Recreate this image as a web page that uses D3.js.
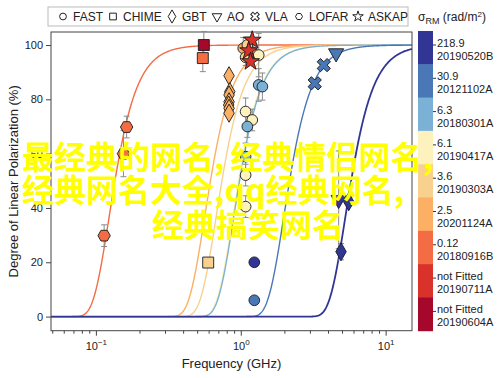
<!DOCTYPE html>
<html>
<head>
<meta charset="utf-8">
<script src="https://cdn.jsdelivr.net/npm/d3@7/dist/d3.min.js"></script>
<style>
  body { margin: 0; background: #fff; }
  text { font-family: "Liberation Sans", Arial, sans-serif; }
</style>
</head>
<body>
<svg id="chart" width="500" height="378"></svg>
<script>

// FRBs, top of the colour bar first
var frbNames  = ['20190520B', '20121102A', '20180301A', '20190417A', '20190303A', '20201124A', '20180916B', '20190711A', '20190604A'];
var sigmaRM   = [218.9, 30.9, 6.3, 6.1, 3.6, 2.5, 0.12, null, null];
var sigmaText = ['218.9', '30.9', '6.3', '6.1', '3.6', '2.5', '0.12', 'not Fitted', 'not Fitted'];
var frbColors = ['#313695', '#4a78b6', '#7cb1d6', '#fdf2bd', '#f9d18f', '#fbb065', '#f36c43', '#d8322a', '#a5082a'];

// points per telescope: frequency (GHz), polarization (%), error (%), FRB
var fastFreq = [1.04, 1.08, 1.2, 1.33, 1.11, 1.33, 1.41, 1.08, 1.2, 1.11, 1.08, 1.08, 1.08, 1.24, 1.24];
var fastPol  = [98.8, 95.5, 97.4, 96.3, 100, 85.3, 84.7, 75.5, 72.4, 70, 58.9, 52.1, 40.5, 20, 6];
var fastErr  = [4, 3, 3, 8, 3, 6, 5, 5, 4, 4, 5, 4, 4, 0, 0];
var fastFrb  = ['20201124A', '20190303A', '20201124A', '20190417A', '20190303A', '20180301A', '20180301A', '20190417A', '20190417A', '20180301A', '20180301A', '20190417A', '20190417A', '20190520B', '20121102A'];

var chimeFreq = [0.556, 0.547, 0.596];
var chimePol  = [100, 95.2, 19.9];
var chimeErr  = [5, 5, 0];
var chimeFrb  = ['20190604A', '20180916B', '20190303A'];

var gbtFreq = [0.83, 0.84, 0.83, 0.83, 0.825, 0.83, 0.83, 5.56, 4.92];
var gbtPol  = [88.7, 82.8, 81.6, 79.1, 77.9, 76.7, 74.9, 42.3, 23.9];
var gbtErr  = [0, 0, 0, 0, 0, 0, 0, 0, 3];
var gbtFrb  = ['20201124A', '20201124A', '20201124A', '20201124A', '20201124A', '20201124A', '20201124A', '20190520B', '20190520B'];

var aoFreq = [4.55, 4.74];
var aoPol  = [97, 43];
var aoErr  = [0, 18];
var aoFrb  = ['20121102A', '20190520B'];

var vlaFreq = [3.24, 3.74];
var vlaPol  = [85.9, 92.6];
var vlaErr  = [0, 0];
var vlaFrb  = ['20121102A', '20121102A'];

var lofarFreq = [0.163, 0.155, 0.114];
var lofarPol  = [69.8, 60, 29.8];
var lofarErr  = [4, 8.5, 4];
var lofarFrb  = ['20180916B', '20180916B', '20180916B'];

var askapFreq = [1.2, 1.135, 1.167];
var askapPol  = [101.8, 97.9, 93.9];
var askapErr  = [0, 0, 0];
var askapFrb  = ['20190711A', '20190711A', '20190711A'];

var legendNames = ['FAST', 'CHIME', 'GBT', 'AO', 'VLA', 'LOFAR', 'ASKAP'];
var yTicks = [0, 20, 40, 60, 80, 100];
var xTicks = [0.1, 1, 10];
var xTickLabels = ['-1', '0', '1'];

var watermark = ['最经典的网名,经典情侣网名,', '经典网名大全,qq经典网名,', '经典搞笑网名'];

// ---------------------------------------------------------------
var svg = d3.select('#chart');
var plot = {left: 51, right: 412, top: 32, bottom: 330.7};

var x = d3.scaleLog().domain([0.049, 15.2]).range([plot.left, plot.right]);
var y = d3.scaleLinear().domain([-5.2, 104.8]).range([plot.bottom, plot.top]);
var colorOf = d3.scaleOrdinal().domain(frbNames).range(frbColors);

// marker shapes
function hexPath(r) {
  var pts = d3.range(6).map(function(i) { var a = Math.PI / 3 * i; return [r * Math.cos(a), r * Math.sin(a)]; });
  return d3.line()(pts) + 'Z';
}
var shapes = {
  FAST:  {path: d3.symbol(d3.symbolCircle, 90)(), rot: 0},
  CHIME: {path: d3.symbol(d3.symbolSquare, 120)(), rot: 0},
  GBT:   {path: d3.symbol(d3.symbolDiamond, 95)(), rot: 0},
  AO:    {path: d3.symbol(d3.symbolTriangle, 100)(), rot: 180},
  VLA:   {path: d3.symbol(d3.symbolCross, 110)(), rot: 45},
  LOFAR: {path: hexPath(6.2), rot: 0},
  ASKAP: {path: d3.symbol(d3.symbolStar, 100)(), rot: 0}
};
var legendShapes = {
  FAST:  d3.symbol(d3.symbolCircle, 36)(),
  CHIME: d3.symbol(d3.symbolSquare, 45)(),
  GBT:   d3.symbol(d3.symbolDiamond, 50)(),
  AO:    d3.symbol(d3.symbolTriangle, 40)(),
  VLA:   d3.symbol(d3.symbolCross, 45)(),
  LOFAR: hexPath(3.5),
  ASKAP: d3.symbol(d3.symbolStar, 35)()
};

svg.append('defs').append('clipPath').attr('id', 'clip')
  .append('rect')
  .attr('x', plot.left).attr('y', plot.top)
  .attr('width', plot.right - plot.left).attr('height', plot.bottom - plot.top);

// depolarization curves p = 100 exp(-2 sigma^2 lambda^4)
var c = 0.299792458; // m GHz
var grid = d3.range(0, 601).map(function(i) { return x.invert(plot.left + i * (plot.right - plot.left) / 600); });
var line = d3.line().x(function(d) { return x(d[0]); }).y(function(d) { return y(d[1]); });

var curveGroup = svg.append('g').attr('clip-path', 'url(#clip)');
var fitted = frbNames.filter(function(d, i) { return sigmaRM[i] !== null; }).reverse();
fitted.forEach(function(name) {
  var s = sigmaRM[frbNames.indexOf(name)];
  var pts = grid.map(function(f) { var lam = c / f; return [f, 100 * Math.exp(-2 * s * s * Math.pow(lam, 4))]; });
  curveGroup.append('path')
    .attr('d', line(pts))
    .attr('fill', 'none')
    .attr('stroke', colorOf(name))
    .attr('stroke-width', name === '20190520B' ? 1.8 : 1.4);
});

// axes
var yAxis = d3.axisLeft(y).tickValues(yTicks).tickSize(5).tickPadding(3);
var gy = svg.append('g').attr('transform', 'translate(' + plot.left + ',0)').call(yAxis);
gy.select('.domain').remove();
gy.selectAll('text').style('font-size', '11px').style('fill', '#222');
gy.selectAll('line').attr('stroke', '#444');

var minor = [];
[0.01, 0.1, 1].forEach(function(dec) { d3.range(2, 10).forEach(function(k) { var v = dec * k; if (v >= 0.049 && v <= 15.2) minor.push(v); }); });
var xMinor = d3.axisBottom(x).tickValues(minor).tickSize(3).tickFormat('');
var gxm = svg.append('g').attr('transform', 'translate(0,' + plot.bottom + ')').call(xMinor);
gxm.select('.domain').remove();
gxm.selectAll('line').attr('stroke', '#444');

var xAxis = d3.axisBottom(x).tickValues(xTicks).tickSize(5).tickFormat('');
var gx = svg.append('g').attr('transform', 'translate(0,' + plot.bottom + ')').call(xAxis);
gx.select('.domain').remove();
gx.selectAll('line').attr('stroke', '#444');
gx.selectAll('.tick').append('text')
  .attr('y', 19)
  .attr('text-anchor', 'middle')
  .style('font-size', '11px')
  .style('fill', '#222')
  .each(function(d, i) {
    var t = d3.select(this);
    t.append('tspan').text('10');
    t.append('tspan').attr('dy', -5).style('font-size', '8px').text(xTickLabels[i] === '-1' ? '\u22121' : xTickLabels[i]);
  });

// frame
svg.append('rect')
  .attr('x', plot.left).attr('y', plot.top)
  .attr('width', plot.right - plot.left).attr('height', plot.bottom - plot.top)
  .attr('fill', 'none').attr('stroke', '#444').attr('stroke-width', 1);

svg.append('text')
  .attr('transform', 'translate(18,' + ((plot.top + plot.bottom) / 2) + ') rotate(-90)')
  .attr('text-anchor', 'middle')
  .style('font-size', '13px').style('fill', '#222')
  .text('Degree of Linear Polarization (%)');

svg.append('text')
  .attr('x', (plot.left + plot.right) / 2).attr('y', 368)
  .attr('text-anchor', 'middle')
  .style('font-size', '13px').style('fill', '#222')
  .text('Frequency (GHz)');

// points
function toPoints(tel, freq, pol, err, frb) {
  return freq.map(function(f, i) { return {tel: tel, f: f, p: pol[i], e: err[i], frb: frb[i]}; });
}
var points = [].concat(
  toPoints('LOFAR', lofarFreq, lofarPol, lofarErr, lofarFrb),
  toPoints('CHIME', chimeFreq, chimePol, chimeErr, chimeFrb),
  toPoints('GBT', gbtFreq, gbtPol, gbtErr, gbtFrb),
  toPoints('FAST', fastFreq, fastPol, fastErr, fastFrb),
  toPoints('ASKAP', askapFreq, askapPol, askapErr, askapFrb),
  toPoints('VLA', vlaFreq, vlaPol, vlaErr, vlaFrb),
  toPoints('AO', aoFreq, aoPol, aoErr, aoFrb)
);

var errs = svg.append('g').selectAll('g').data(points.filter(function(d) { return d.e > 0; })).enter().append('g')
  .attr('stroke', '#8a8a8a').attr('stroke-width', 1);
errs.append('line')
  .attr('x1', function(d) { return x(d.f); }).attr('x2', function(d) { return x(d.f); })
  .attr('y1', function(d) { return y(d.p - d.e); }).attr('y2', function(d) { return y(d.p + d.e); });
errs.append('line')
  .attr('x1', function(d) { return x(d.f) - 3; }).attr('x2', function(d) { return x(d.f) + 3; })
  .attr('y1', function(d) { return y(d.p - d.e); }).attr('y2', function(d) { return y(d.p - d.e); });
errs.append('line')
  .attr('x1', function(d) { return x(d.f) - 3; }).attr('x2', function(d) { return x(d.f) + 3; })
  .attr('y1', function(d) { return y(d.p + d.e); }).attr('y2', function(d) { return y(d.p + d.e); });

svg.append('g').selectAll('path').data(points).enter().append('path')
  .attr('d', function(d) { return shapes[d.tel].path; })
  .attr('transform', function(d) { return 'translate(' + x(d.f) + ',' + y(d.p) + ') rotate(' + shapes[d.tel].rot + ')'; })
  .attr('fill', function(d) { return colorOf(d.frb); })
  .attr('stroke', '#1a1a1a')
  .attr('stroke-width', 0.9);

// legend
var legendX = [63, 113, 172, 217, 255, 299, 358];
var legend = svg.append('g');
legend.append('rect').attr('x', 48).attr('y', 7).attr('width', 360).attr('height', 19)
  .attr('fill', '#fff').attr('stroke', '#bbb');
var items = legend.selectAll('g.item').data(legendNames).enter().append('g')
  .attr('class', 'item')
  .attr('transform', function(d, i) { return 'translate(' + legendX[i] + ',16.5)'; });
items.append('path')
  .attr('d', function(d) { return legendShapes[d]; })
  .attr('transform', function(d) { return 'rotate(' + shapes[d].rot + ')'; })
  .attr('fill', '#fff').attr('stroke', '#222').attr('stroke-width', 1);
items.append('text')
  .attr('x', 10).attr('y', 4.2)
  .style('font-size', '12px').style('fill', '#222')
  .text(function(d) { return d; });

// colour bar
var cb = {x: 418, w: 15, top: 31, bottom: plot.bottom};
var cbY = d3.scaleBand().domain(frbNames).range([cb.top, cb.bottom]).padding(0);
var cbar = svg.append('g');
cbar.selectAll('rect').data(frbNames).enter().append('rect')
  .attr('x', cb.x).attr('y', function(d) { return cbY(d); })
  .attr('width', cb.w).attr('height', cbY.bandwidth() + 0.5)
  .attr('fill', function(d) { return colorOf(d); });
cbar.selectAll('line').data(frbNames).enter().append('line')
  .attr('x1', cb.x + cb.w).attr('x2', cb.x + cb.w + 3)
  .attr('y1', function(d) { return cbY(d) + 14; }).attr('y2', function(d) { return cbY(d) + 14; })
  .attr('stroke', '#333');
var cbl = cbar.selectAll('text').data(frbNames).enter().append('text')
  .attr('x', cb.x + cb.w + 4)
  .style('font-size', '11px').style('fill', '#222');
cbl.append('tspan').attr('x', cb.x + cb.w + 4).attr('y', function(d) { return cbY(d) + 16; })
  .text(function(d, i) { return sigmaText[i]; });
cbl.append('tspan').attr('x', cb.x + cb.w + 4).attr('y', function(d) { return cbY(d) + 29; })
  .text(function(d) { return d; });

var cbt = svg.append('text').attr('x', 418).attr('y', 21).style('font-size', '12px').style('fill', '#222');
cbt.append('tspan').text('\u03c3');
cbt.append('tspan').attr('dy', 3).style('font-size', '9px').text('RM');
cbt.append('tspan').attr('dy', -3).text(' (rad/m');
cbt.append('tspan').attr('dy', -4).style('font-size', '8px').text('2');
cbt.append('tspan').attr('dy', 4).text(')');

// overlay text, commas a bit wider than the font's own
var wm = svg.append('g').selectAll('text').data(watermark).enter().append('text')
  .attr('x', function(d, i) { return i === 2 ? 152 : 22; })
  .attr('y', function(d, i) { return [169, 202, 237][i]; })
  .style('font-family', '"Noto Sans CJK SC", sans-serif')
  .style('font-weight', 'bold')
  .style('font-size', '32px')
  .style('fill', '#ffff00');
wm.each(function(d, li) {
  var t = d3.select(this);
  var parts = d.split(',');
  parts.forEach(function(p, i) {
    if (p.length) t.append('tspan').attr('dx', i > 0 && li === 0 ? 6 : 0).text(p);
    if (i < parts.length - 1) t.append('tspan').text(',');
  });
});

</script>
</body>
</html>
